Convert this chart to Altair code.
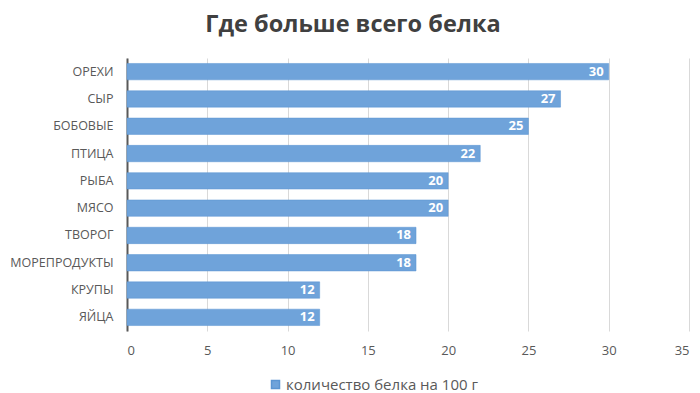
import altair as alt
import pandas as pd

categories = ["ОРЕХИ", "СЫР", "БОБОВЫЕ", "ПТИЦА", "РЫБА", "МЯСО", "ТВОРОГ",
              "МОРЕПРОДУКТЫ", "КРУПЫ", "ЯЙЦА"]
values = [30, 27, 25, 22, 20, 20, 18, 18, 12, 12]
series_name = "количество белка на 100 г"
x_ticks = [0, 5, 10, 15, 20, 25, 30, 35]

df = pd.DataFrame({"cat": categories, "val": values, "series": [series_name] * len(values)})

FONT = "Open Sans"
BLUE = "#6FA3DA"

y_enc = alt.Y("cat:N", sort=categories, title=None,
              scale=alt.Scale(paddingInner=0.4, paddingOuter=0.2),
              axis=alt.Axis(labelFont=FONT, labelFontSize=12.5, labelColor="#595959",
                            labelPadding=14, labelLimit=200, ticks=False,
                            domainColor="#595959", domainWidth=2, grid=False))
x_enc = alt.X("val:Q", title=None,
              scale=alt.Scale(domain=[0, 35], nice=False),
              axis=alt.Axis(values=x_ticks, labelFont=FONT, labelFontSize=13,
                            labelColor="#595959", labelPadding=13, ticks=False,
                            domain=False, grid=True, gridColor="#D9D9D9", gridWidth=1))

bars = alt.Chart(df).mark_bar(color=BLUE, stroke="#5B95D2", strokeWidth=0.5).encode(
    x=x_enc, y=y_enc,
    color=alt.Color("series:N", scale=alt.Scale(range=[BLUE]),
                    legend=alt.Legend(title=None, orient="none", legendX=141, legendY=319,
                                      symbolType="square", symbolSize=64,
                                      symbolOffset=0, labelOffset=3, labelLimit=400,
                                      labelFont=FONT, labelFontSize=15,
                                      labelColor="#595959")),
)

labels = alt.Chart(df).mark_text(align="right", dx=-5, color="white", font=FONT,
                                 fontWeight="bold", fontSize=13).encode(
    x="val:Q", y=alt.Y("cat:N", sort=categories), text="val:Q")

chart = (bars + labels).properties(
    width=562, height=273,
    autosize=alt.AutoSizeParams(type="none"),
    padding={"left": 119, "top": 50, "right": 3, "bottom": 62},
    background="white",
    title=alt.TitleParams("Где больше всего белка", font=FONT, fontSize=23.5,
                          fontWeight="bold", color="#404040", anchor="middle",
                          dx=-55, offset=22),
).configure_view(stroke=None)

chart.save("out.html", embed_options={"renderer": "svg", "actions": False})
